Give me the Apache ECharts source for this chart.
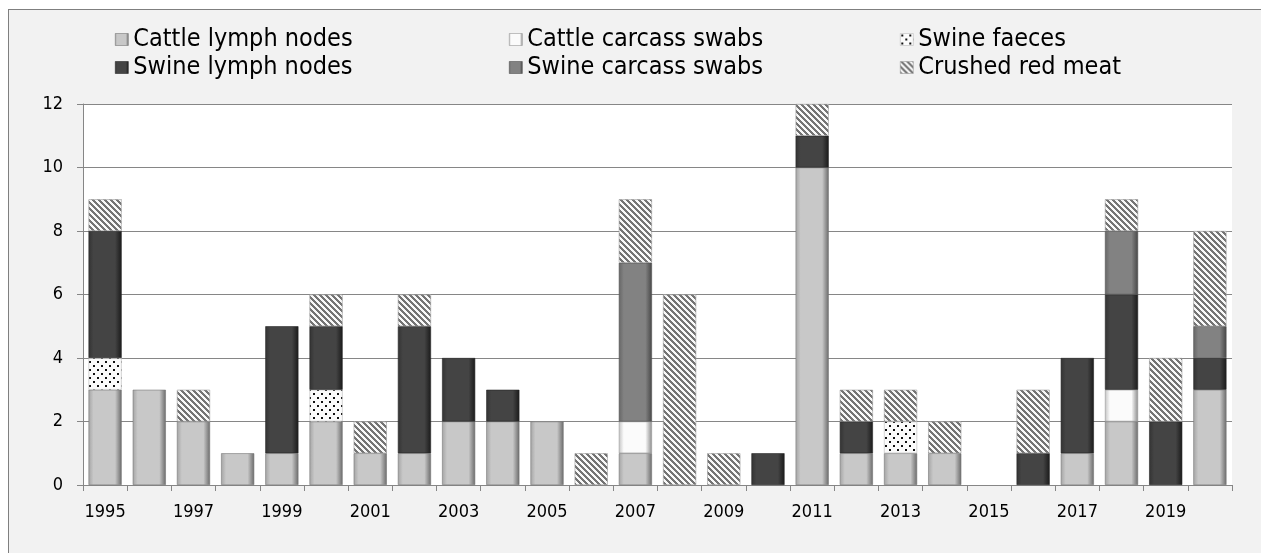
<!DOCTYPE html>
<html>
<head>
<meta charset="utf-8">
<script src="https://cdn.jsdelivr.net/npm/echarts@6/dist/echarts.min.js"></script>
<style>
  html, body { margin: 0; padding: 0; background: #ffffff; }
  #frame { position: absolute; left: 8px; top: 9px; width: 1300px; height: 600px;
           border: 1px solid #7f7f7f; background: #f2f2f2; }
  #chart { position: absolute; left: 0; top: 0; width: 1261px; height: 553px; }
</style>
</head>
<body>
<div id="frame"></div>
<div id="chart"></div>
<script>
// ---- Data ----
var years = ['1995','1996','1997','1998','1999','2000','2001','2002','2003','2004','2005','2006','2007',
             '2008','2009','2010','2011','2012','2013','2014','2015','2016','2017','2018','2019','2020'];
var seriesNames = ['Cattle lymph nodes','Cattle carcass swabs','Swine faeces',
                   'Swine lymph nodes','Swine carcass swabs','Crushed red meat'];
var cattleLymphNodes   = [3,3,2,1,1,2,1,1,2,2,2,0,1,0,0,0,10,1,1,1,0,0,1,2,0,3];
var cattleCarcassSwabs = [0,0,0,0,0,0,0,0,0,0,0,0,1,0,0,0,0,0,0,0,0,0,0,1,0,0];
var swineFaeces        = [1,0,0,0,0,1,0,0,0,0,0,0,0,0,0,0,0,0,1,0,0,0,0,0,0,0];
var swineLymphNodes    = [4,0,0,0,4,2,0,4,2,1,0,0,0,0,0,1,1,1,0,0,0,1,3,3,2,1];
var swineCarcassSwabs  = [0,0,0,0,0,0,0,0,0,0,0,0,5,0,0,0,0,0,0,0,0,0,0,2,0,1];
var crushedRedMeat     = [1,0,1,0,0,1,1,1,0,0,0,1,2,6,1,0,1,1,1,1,0,2,0,1,2,3];
var yTicks = { min: 0, max: 12, interval: 2 };

// ---- Styles ----
var FONT = '"DejaVu Sans Condensed", "DejaVu Sans", sans-serif';
function bevel(l, c, r) {
  return new echarts.graphic.LinearGradient(0, 0, 1, 0, [
    { offset: 0, color: l }, { offset: 0.15, color: c },
    { offset: 0.8, color: c }, { offset: 1, color: r }
  ]);
}
function hatchPattern() {
  var n = 6, cv = document.createElement('canvas');
  cv.width = n; cv.height = n;
  var ctx = cv.getContext('2d');
  ctx.fillStyle = '#f8f8f8'; ctx.fillRect(0, 0, n, n);
  ctx.fillStyle = '#747474';
  for (var y = 0; y < n; y++) for (var x = 0; x < n; x++) {
    var d = ((x - y) % n + n) % n;
    if (d === 0 || d === 1 || d === 2) ctx.fillRect(x, y, 1, 1);
  }
  return { image: cv, repeat: 'repeat' };
}
function dotPattern() {
  var n = 8, cv = document.createElement('canvas');
  cv.width = n; cv.height = n;
  var ctx = cv.getContext('2d');
  ctx.fillStyle = '#fbfbfb'; ctx.fillRect(0, 0, n, n);
  ctx.fillStyle = '#111111';
  ctx.fillRect(1, 1, 2, 2);
  ctx.fillRect(5, 5, 2, 2);
  return { image: cv, repeat: 'repeat' };
}
var colors = [
  bevel('#a4a4a4', '#c8c8c8', '#6a6a6a'),
  bevel('#c4c4c4', '#fbfbfb', '#8a8a8a'),
  dotPattern(),
  bevel('#333333', '#444444', '#1a1a1a'),
  bevel('#666666', '#828282', '#464646'),
  hatchPattern()
];
var borders = ['#777777', '#999999', '#bbbbbb', '#262626', '#525252', '#9a9a9a'];
var values = [cattleLymphNodes, cattleCarcassSwabs, swineFaeces, swineLymphNodes, swineCarcassSwabs, crushedRedMeat];

var series = seriesNames.map(function (name, i) {
  return {
    name: name, type: 'bar', stack: 'total',
    barCategoryGap: '25%',
    data: values[i].map(function (v) { return v === 0 ? null : v; }),
    itemStyle: { color: colors[i], borderColor: borders[i], borderWidth: 0.6 },
    emphasis: { disabled: true }
  };
});

var legendPos = [
  { left: 115, top: 27 }, { left: 509, top: 27 }, { left: 900, top: 27 },
  { left: 115, top: 55 }, { left: 509, top: 55 }, { left: 900, top: 55 }
];
var legends = seriesNames.map(function (name, i) {
  return {
    data: [name], left: legendPos[i].left, top: legendPos[i].top,
    padding: 0, itemWidth: 13, itemHeight: 12, icon: 'rect',
    textStyle: { fontFamily: FONT, fontSize: 25, color: '#000000' },
    itemStyle: { borderColor: borders[i], borderWidth: 0.6 },
    selectedMode: false
  };
});

var chart = echarts.init(document.getElementById('chart'), null, { renderer: 'canvas' });
chart.setOption({
  animation: false,
  backgroundColor: 'transparent',
  legend: legends,
  grid: { left: 83, right: 29, top: 104, bottom: 68, show: true, backgroundColor: '#ffffff', borderWidth: 0 },
  xAxis: {
    type: 'category', data: years,
    axisLine: { show: true, lineStyle: { color: '#868686', width: 1 } },
    axisTick: { show: true, interval: 0, length: 6, lineStyle: { color: '#868686' } },
    axisLabel: { interval: 1, margin: 18, fontFamily: FONT, fontSize: 18, color: '#000000' },
    splitLine: { show: false }
  },
  yAxis: {
    type: 'value', min: yTicks.min, max: yTicks.max, interval: yTicks.interval,
    axisLine: { show: true, lineStyle: { color: '#868686', width: 1 } },
    axisTick: { show: true, length: 6, lineStyle: { color: '#868686' } },
    axisLabel: { margin: 20, fontFamily: FONT, fontSize: 18, color: '#000000' },
    splitLine: { show: true, lineStyle: { color: '#868686', width: 1.2 } }
  },
  series: series
});
</script>
</body>
</html>
